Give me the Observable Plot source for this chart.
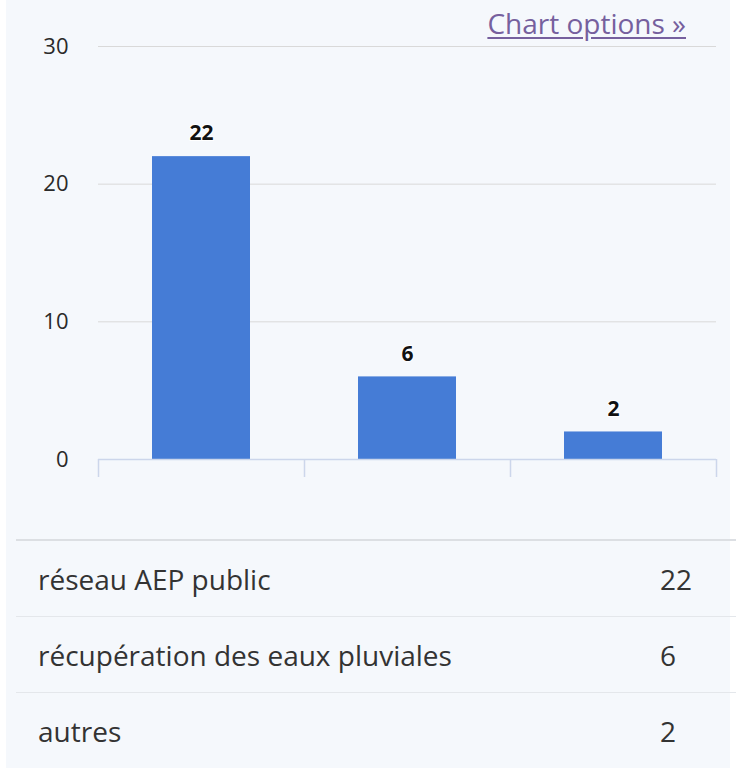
<!DOCTYPE html>
<html><head><meta charset="utf-8">
<script src="https://cdn.jsdelivr.net/npm/d3@7"></script>
<script src="https://cdn.jsdelivr.net/npm/@observablehq/plot@0.6"></script>
<style>
html,body{margin:0;padding:0;background:#fff;}
body{position:relative;width:736px;height:768px;overflow:hidden;font-family:"Open Sans",sans-serif;}
#panel{position:absolute;left:6px;top:0;width:724px;height:768px;background:#f5f8fc;}
#chart{position:absolute;left:0;top:0;}
#opts{position:absolute;right:50px;top:4px;font-size:28px;line-height:38px;color:#76609e;text-decoration:underline;text-underline-offset:3px;}
table{position:absolute;left:16px;top:539px;width:720px;border-collapse:collapse;table-layout:fixed;font-size:28px;color:#333;border-top:2px solid #dcdfe3;}
td{height:75px;border-bottom:1px solid #e4e7eb;padding:0;vertical-align:middle;}
td.l{padding-left:22px;width:622px;}
td.v{width:76px;}
</style></head>
<body>
<div id="panel"></div>
<div id="chart"></div>
<div id="opts">Chart options »</div>
<table id="tbl"></table>
<script>
const categories = ["réseau AEP public", "récupération des eaux pluviales", "autres"];
const values = [22, 6, 2];
const yTicks = [0, 10, 20, 30];

const data = categories.map((c, i) => ({cat: c, value: values[i]}));
const W = 736, ML = 98, MR = 20, PI = 0.524, PO = 0.262;
const step = (W - ML - MR) / (categories.length - PI + 2 * PO);

const plot = Plot.plot({
  width: W, height: 500,
  marginTop: 46, marginBottom: 41, marginLeft: ML, marginRight: MR,
  style: {background: "transparent", fontFamily: "Open Sans", fontSize: "22px", color: "#333", overflow: "visible"},
  x: {domain: categories, paddingInner: PI, paddingOuter: PO, axis: null},
  y: {domain: [0, 30], ticks: yTicks},
  marks: [
    Plot.gridY(yTicks, {stroke: "#d9d9d9", strokeOpacity: 1}),
    Plot.axisY(yTicks, {tickSize: 0, tickPadding: 30, label: null, fontSize: 22, fill: "#2a2a2a"}),
    Plot.barY(data, {x: "cat", y: "value", fill: "#457cd6"}),
    Plot.ruleY([0], {stroke: "#ccd6eb", strokeWidth: 1.5}),
    Plot.ruleX(data, {x: "cat", y1: 0, y2: 0, dx: -step / 2, insetBottom: -18, stroke: "#ccd6eb", strokeWidth: 1.5}),
    Plot.ruleX([data[data.length - 1]], {x: "cat", y1: 0, y2: 0, dx: step / 2, insetBottom: -18, stroke: "#ccd6eb", strokeWidth: 1.5}),
    Plot.text(data, {x: "cat", y: "value", text: d => String(d.value), dy: -23, lineAnchor: "middle",
      fontWeight: "bold", fontSize: 21, fill: "#111", stroke: "white", strokeWidth: 2})
  ]
});
document.getElementById("chart").appendChild(plot);

const tbl = document.getElementById("tbl");
data.forEach(d => {
  const tr = document.createElement("tr");
  const a = document.createElement("td"); a.className = "l"; a.textContent = d.cat;
  const b = document.createElement("td"); b.className = "v"; b.textContent = d.value;
  tr.appendChild(a); tr.appendChild(b); tbl.appendChild(tr);
});
</script>
</body></html>
